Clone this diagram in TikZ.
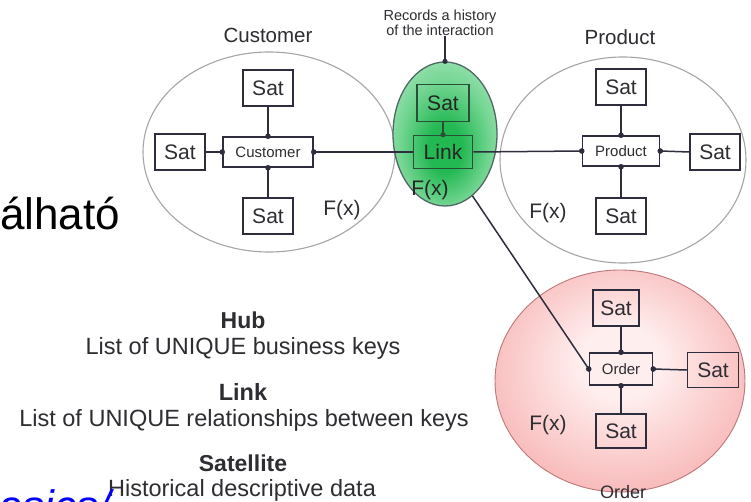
\documentclass[tikz,border=0pt]{standalone}
\usepackage{fontspec}
\setmainfont{Liberation Sans}
\usetikzlibrary{shapes.geometric}

\definecolor{ink}{RGB}{45,45,62}
\definecolor{txt}{RGB}{45,45,50}
\definecolor{rim}{RGB}{165,165,170}
\definecolor{gin}{RGB}{34,184,82}
\definecolor{gmid}{RGB}{118,214,148}
\definecolor{gout}{RGB}{196,240,212}
\definecolor{gedge}{RGB}{80,104,100}
\definecolor{gbox}{RGB}{40,80,55}
\definecolor{pin}{RGB}{255,238,238}
\definecolor{pmid}{RGB}{248,185,185}
\definecolor{pout}{RGB}{238,132,132}
\definecolor{pedge}{RGB}{190,120,120}

\pgfdeclareradialshading{greenglow}{\pgfpoint{0bp}{-6bp}}%
  {color(0bp)=(gin); color(8bp)=(gin); color(22bp)=(gmid); color(40bp)=(gout); color(50bp)=(gout)}
\pgfdeclareradialshading{pinkglow}{\pgfpoint{0bp}{5bp}}%
  {color(0bp)=(pin); color(8bp)=(pin); color(28bp)=(pmid); color(46bp)=(pout); color(50bp)=(pout)}

\pgfdeclarelayer{back}
\pgfdeclarelayer{mid}
\pgfsetlayers{back,mid,main}

\begin{document}
\begin{tikzpicture}[x=1pt,y=-1pt,
  every node/.style={text=txt},
  satbox/.style={draw=ink, line width=1.5pt, fill=white, minimum width=50pt,
    minimum height=36pt, inner sep=0pt, font=\fontsize{21}{21}\selectfont},
  hubbox/.style={draw=ink, line width=1.5pt, fill=white, minimum height=30pt,
    inner sep=0pt, font=\fontsize{15}{15}\selectfont},
  conn/.style={draw=ink, line width=1.5pt},
  blob/.style={ellipse, inner sep=0pt},
  title/.style={font=\fontsize{20.5}{20.5}\selectfont},
  fx/.style={font=\fontsize{21}{21}\selectfont},
  legend/.style={font=\fontsize{23.5}{23.5}\selectfont},
  legendhead/.style={font=\fontsize{23}{23}\selectfont\bfseries},
]
\clip (0,0) rectangle (751,502);

% ---------- Customer hub ----------
\node[satbox] (cst) at (268,88) {Sat};
\node[satbox] (csl) at (180,152) {Sat};
\node[satbox] (csb) at (268,216) {Sat};
\node[hubbox, minimum width=90pt] (ch) at (268,152) {Customer};
\node[fx] (cfx) at (342,210) {F(x)};
\node[title] (ctitle) at (268,35) {Customer};
\draw[conn] (cst.south) -- (ch.north);
\draw[conn] (csb.north) -- (ch.south);
\draw[conn] (csl.east) -- (ch.west);

% ---------- Link ----------
\node[blob, minimum width=104pt, minimum height=144pt, draw=gedge, line width=1.3pt,
  shading=greenglow] (ge) at (445,134) {};
\node[satbox, fill=none, draw=gbox, minimum width=52pt, minimum height=37pt,
  text=black!85] (ls) at (443,103) {Sat};
\node[satbox, fill=none, draw=gbox, minimum width=59pt, minimum height=33pt,
  text=black!85] (lk) at (443,152) {Link};
\node[fx, text=black!85] (lfx) at (430,190) {F(x)};
\draw[conn, draw=gbox] (ls.south) -- (lk.north);
\fill[gbox] (lk.north) circle[radius=2.6pt];
\node[font=\fontsize{14.5}{13}\selectfont, align=center, inner sep=0pt] (rec) at (440,23)
  {Records a history\\of the interaction};
\draw[conn] (rec.south -| ge.north) -- (ge.north);
\fill[ink] (ge.north) circle[radius=2.6pt];

% ---------- Product hub ----------
\node[satbox] (pst) at (621,87) {Sat};
\node[satbox] (psr) at (715,152) {Sat};
\node[satbox] (psb) at (621,216) {Sat};
\node[hubbox, minimum width=77pt] (ph) at (621,151) {Product};
\node[fx] (pfx) at (548,213) {F(x)};
\node[title] (ptitle) at (620,37) {Product};
\draw[conn] (pst.south) -- (ph.north);
\draw[conn] (psb.north) -- (ph.south);
\draw[conn] (ph.east) -- (psr.west);

% ---------- Order hub ----------
\node[satbox, fill=none, minimum width=46pt] (ost) at (616,308) {Sat};
\node[satbox, fill=none, minimum width=51pt, minimum height=35pt] (osr) at (713,370) {Sat};
\node[satbox, fill=none, minimum height=34pt] (osb) at (621,431) {Sat};
\node[hubbox, fill=none, minimum width=63pt, minimum height=32pt] (oh) at (621,369) {Order};
\node[fx] (ofx) at (548,425) {F(x)};
\node[title, font=\fontsize{18}{18}\selectfont] (otitle) at (623,492) {Order};
\draw[conn] (ost.south -| oh.north) -- (oh.north);
\draw[conn] (osb.north) -- (oh.south);
\draw[conn] (oh.east) -- (osr.west);

% ---------- connections between the blocks ----------
\draw[conn] (ch.east) -- (lk.west);
\draw[conn] (lk.east) -- (ph.west);
\begin{pgfonlayer}{mid}
  \draw[conn] (lk.center) -- (oh.west);
\end{pgfonlayer}

% joints on the hub boxes
\foreach \h in {ch,ph,oh}{
  \fill[ink] (\h.north) circle[radius=2.8pt];
  \fill[ink] (\h.south) circle[radius=2.8pt];
  \fill[ink] (\h.east) circle[radius=2.8pt];
  \fill[ink] (\h.west) circle[radius=2.8pt];
}

% ---------- the surrounding ellipses ----------
\begin{pgfonlayer}{back}
  \fill[white] (0,0) rectangle (751,502);
  \node[blob, minimum width=252pt, minimum height=200pt, draw=rim, line width=1.1pt]
    (cell) at (269,152) {};
  \node[blob, minimum width=246pt, minimum height=206pt, draw=rim, line width=1.1pt]
    (pell) at (623,160) {};
  \node[blob, minimum width=250pt, minimum height=222pt, draw=pedge, line width=0.9pt,
    shading=pinkglow] (oell) at (620,381) {};
\end{pgfonlayer}

% ---------- legend ----------
\node[legendhead] (lh1) at (243,320) {Hub};
\node[legend] (lt1) at (243,348) {List of UNIQUE business keys};
\node[legend] (lh2) at (243,392) {\bfseries Link};
\node[legend] (lt2) at (244,420) {List of UNIQUE relationships between keys};
\node[legendhead] (lh3) at (243,463) {Satellite};
\node[legend] (lt3) at (242,490) {Historical descriptive data};

% ---------- surrounding slide text ----------
\node[anchor=base west, inner sep=0pt, text=black, font=\fontsize{44}{44}\selectfont]
  (word) at (0,230) {álható};
\node[anchor=base west, inner sep=0pt, text=blue, font=\fontsize{44}{44}\selectfont\itshape]
  (url) at (-2,521) {asics/};
\end{tikzpicture}
\end{document}
